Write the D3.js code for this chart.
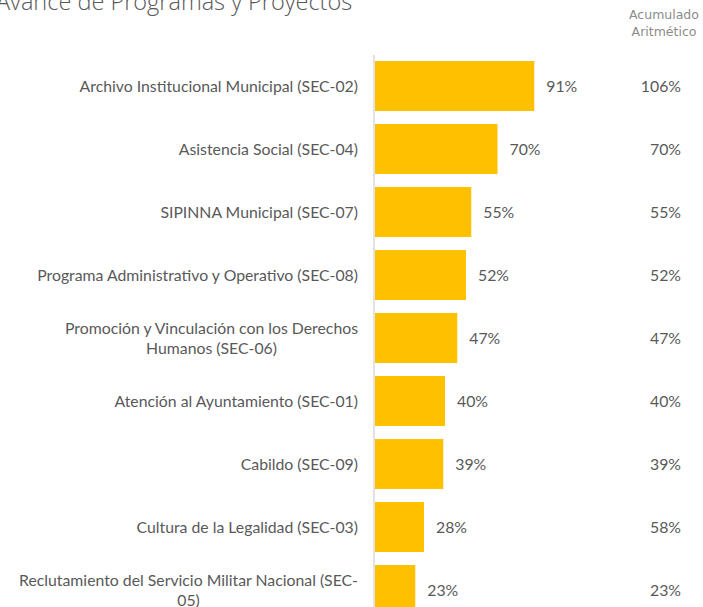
<!DOCTYPE html>
<html>
<head>
<meta charset="utf-8">
<script src="https://cdn.jsdelivr.net/npm/d3@7"></script>
<style>
  body { margin: 0; background: #fff; }
  svg { display: block; }
</style>
</head>
<body>
<div id="chart"></div>
<script>
// chart data
var categories = [
  'Archivo Institucional Municipal (SEC-02)',
  'Asistencia Social (SEC-04)',
  'SIPINNA Municipal (SEC-07)',
  'Programa Administrativo y Operativo (SEC-08)',
  'Promoción y Vinculación con los Derechos\nHumanos (SEC-06)',
  'Atención al Ayuntamiento (SEC-01)',
  'Cabildo (SEC-09)',
  'Cultura de la Legalidad (SEC-03)',
  'Reclutamiento del Servicio Militar Nacional (SEC-\n05)'
];
var avance = [91, 70, 55, 52, 47, 40, 39, 28, 23];
var acumulado = [106, 70, 55, 52, 47, 40, 39, 58, 23];
var titleText = 'Avance de Programas y Proyectos';
var headerLines = ['Acumulado', 'Aritmético'];

var W = 703, H = 607;
var svg = d3.select('#chart').append('svg')
  .attr('width', W)
  .attr('height', H);

var y = d3.scaleBand()
  .domain(categories)
  .range([54.5, 621.5])
  .paddingInner(13 / 63)
  .paddingOuter(6.5 / 63);
var x = d3.scaleLinear()
  .domain([0, 100])
  .range([375, 550]);

// title (cut at top like the source)
svg.append('text')
  .attr('x', -4)
  .attr('y', 10)
  .attr('font-family', 'Open Sans')
  .attr('font-weight', 300)
  .attr('font-size', 23.5)
  .attr('fill', '#595959')
  .text(titleText);

// header of right column
svg.selectAll('.hdr')
  .data(headerLines)
  .enter().append('text')
  .attr('class', 'hdr')
  .attr('x', 664)
  .attr('y', function (d, i) { return 19 + i * 17; })
  .attr('text-anchor', 'middle')
  .attr('font-family', 'DejaVu Sans')
  .attr('font-size', 12.5)
  .attr('fill', '#8c8c8c')
  .text(function (d) { return d; });

// bars
svg.selectAll('.bar')
  .data(categories)
  .enter().append('rect')
  .attr('class', 'bar')
  .attr('x', x(0))
  .attr('y', function (d) { return y(d); })
  .attr('width', function (d, i) { return x(avance[i]) - x(0); })
  .attr('height', y.bandwidth())
  .attr('fill', '#FFC000');

// vertical axis line
svg.append('line')
  .attr('x1', 374).attr('x2', 374)
  .attr('y1', 55).attr('y2', H)
  .attr('stroke', '#d9d9d9')
  .attr('stroke-width', 1.5);

var font = 'Lato';
var fs = 15.8;
var txtColor = '#595959';

// category labels (wrapped lines centred, block right aligned)
categories.forEach(function (c, i) {
  var lines = c.split('\n');
  var cy = y(c) + y.bandwidth() / 2;
  var g = svg.append('g');
  var texts = lines.map(function (l, j) {
    return g.append('text')
      .attr('y', cy + (j - (lines.length - 1) / 2) * 20)
      .attr('dy', '0.35em')
      .attr('font-family', font)
      .attr('font-size', fs)
      .attr('fill', txtColor)
      .text(l);
  });
  var maxW = d3.max(texts, function (t) { return t.node().getComputedTextLength(); });
  var right = 358;
  texts.forEach(function (t) {
    t.attr('text-anchor', lines.length > 1 ? 'middle' : 'end')
      .attr('x', lines.length > 1 ? right - maxW / 2 : right);
  });
});

// value labels
svg.selectAll('.val')
  .data(categories)
  .enter().append('text')
  .attr('class', 'val')
  .attr('x', function (d, i) { return x(avance[i]) + 12; })
  .attr('y', function (d) { return y(d) + y.bandwidth() / 2; })
  .attr('dy', '0.35em')
  .attr('font-family', font)
  .attr('font-size', fs)
  .attr('fill', txtColor)
  .text(function (d, i) { return avance[i] + '%'; });

// accumulated column
svg.selectAll('.acc')
  .data(categories)
  .enter().append('text')
  .attr('class', 'acc')
  .attr('x', 681)
  .attr('y', function (d) { return y(d) + y.bandwidth() / 2; })
  .attr('dy', '0.35em')
  .attr('text-anchor', 'end')
  .attr('font-family', font)
  .attr('font-size', fs)
  .attr('fill', txtColor)
  .text(function (d, i) { return acumulado[i] + '%'; });
</script>
</body>
</html>
